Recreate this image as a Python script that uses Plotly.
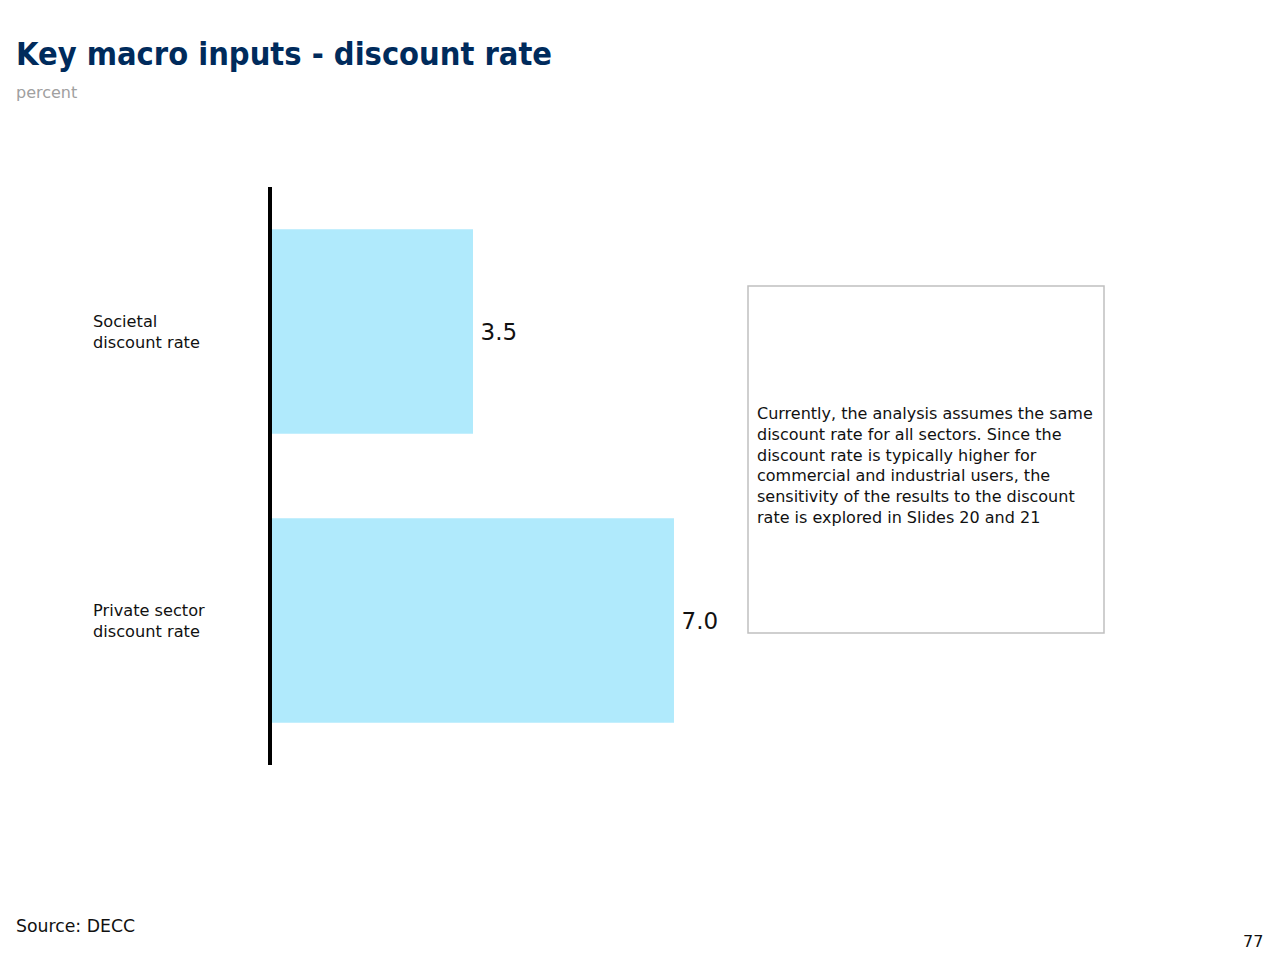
import plotly.graph_objects as go

# data
categories = ['Societal discount rate', 'Private sector discount rate']
cat_labels = ['Societal<br>discount rate', 'Private sector<br>discount rate']
rates = [3.5, 7.0]
rate_text = ['\u20093.5', '\u20097.0']

title = 'Key macro inputs - discount rate'
subtitle = 'percent'
note = ('Currently, the analysis assumes the same<br>discount rate for all sectors. Since the<br>'
        'discount rate is typically higher for<br>commercial and industrial users, the<br>'
        'sensitivity of the results to the discount<br>rate is explored in Slides 20 and 21')
source = 'Source: DECC'
page_no = '77'

W, H = 1280, 961
OFF = 8  # page body margin
L, R, T, B = 272 - OFF, 428 + OFF, 187 - OFF, 196 + OFF
FONT = 'DejaVu Sans'


# pixel (as seen on screen) -> paper helpers for the loose slide furniture
def px(x):
    return (x - OFF - L) / (W - L - R)


def py(y):
    return (H - B - (y - OFF)) / (H - T - B)


fig = go.Figure(go.Bar(
    y=categories, x=rates, orientation='h',
    width=0.707,
    marker=dict(color='#b0eafc', line=dict(width=0)),
    text=rate_text, textposition='outside', cliponaxis=False,
    textfont=dict(family=FONT, size=23, color='#111111'),
    hoverinfo='skip',
))

fig.update_xaxes(range=[0, 10.1], visible=False, fixedrange=True)
fig.update_yaxes(autorange='reversed', showticklabels=False, showgrid=False,
                 showline=True, linecolor='black', linewidth=4, zeroline=False, fixedrange=True)

ann = []
for c, lab in zip(categories, cat_labels):
    ann.append(dict(x=px(91), xref='paper', y=c, yref='y', xanchor='left', yanchor='middle',
                    text=lab, align='left', showarrow=False,
                    font=dict(family=FONT, size=16.2, color='#111111')))

ann += [
    dict(x=px(14), y=py(54), xref='paper', yref='paper', xanchor='left', yanchor='middle',
         text='<b>' + title + '</b>', showarrow=False,
         font=dict(family='DejaVu Sans Condensed', size=32.3, color='#002b5c')),
    dict(x=px(14), y=py(92), xref='paper', yref='paper', xanchor='left', yanchor='middle',
         text=subtitle, showarrow=False, font=dict(family=FONT, size=16, color='#a0a0a0')),
    dict(x=px(755), y=py(465), xref='paper', yref='paper', xanchor='left', yanchor='middle',
         text=note, align='left', showarrow=False,
         font=dict(family=FONT, size=16, color='#111111')),
    dict(x=px(14), y=py(926), xref='paper', yref='paper', xanchor='left', yanchor='middle',
         text=source, showarrow=False, font=dict(family=FONT, size=17.3, color='#111111')),
    dict(x=px(1265), y=py(941), xref='paper', yref='paper', xanchor='right', yanchor='middle',
         text=page_no, showarrow=False, font=dict(family=FONT, size=16, color='#111111')),
]

fig.update_layout(
    width=W, height=H,
    margin=dict(l=L, r=R, t=T, b=B),
    plot_bgcolor='white', paper_bgcolor='white',
    showlegend=False,
    annotations=ann,
    shapes=[dict(type='rect', xref='paper', yref='paper',
                 x0=px(748), x1=px(1104), y0=py(633), y1=py(286),
                 line=dict(color='#c0c0c0', width=1.5), fillcolor='rgba(0,0,0,0)')],
)

fig.write_html('out.html')
